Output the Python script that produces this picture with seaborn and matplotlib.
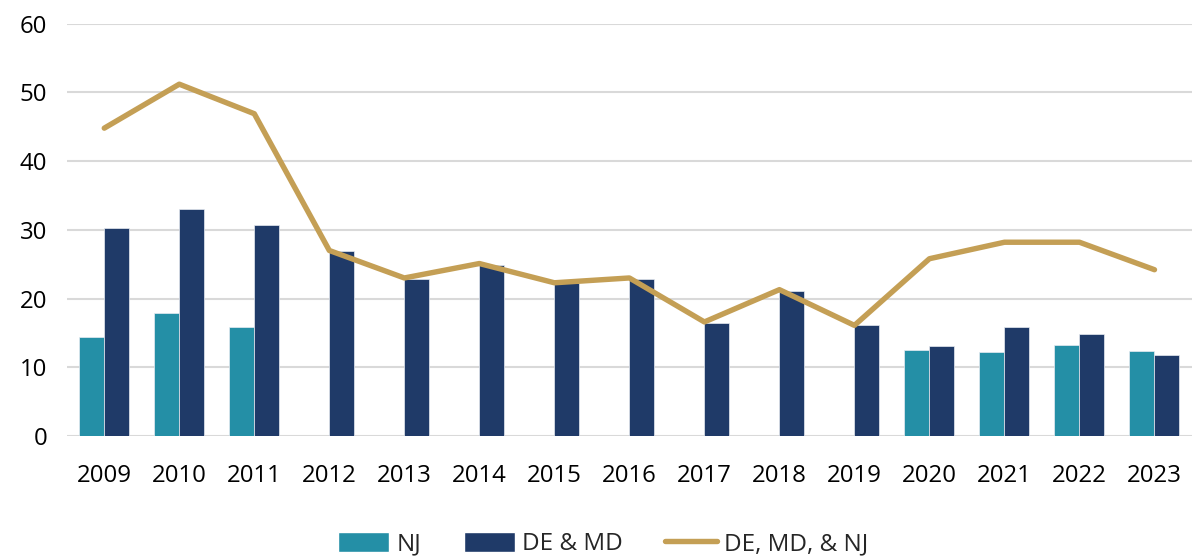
import numpy as np
import pandas as pd
import matplotlib.pyplot as plt
import seaborn as sns
from matplotlib.lines import Line2D
from matplotlib.patches import Patch

# --- DATA ---
years = [str(y) for y in range(2009, 2024)]
nj = [14.4, 17.9, 15.9, np.nan, np.nan, np.nan, np.nan, np.nan,
      np.nan, np.nan, np.nan, 12.5, 12.2, 13.2, 12.3]
de_md = [30.2, 33.1, 30.7, 26.9, 22.9, 24.9, 22.2, 22.9,
         16.5, 21.1, 16.1, 13.1, 15.9, 14.8, 11.8]
total = [44.8, 51.2, 46.9, 27.0, 23.0, 25.1, 22.3, 23.0,
         16.6, 21.3, 16.1, 25.8, 28.2, 28.2, 24.2]

# --- STYLE ---
C_NJ = "#248FA6"
C_DEMD = "#1F3A68"
C_LINE = "#C49F55"
GRID = "#D9D9D9"

sns.set_theme(style="white")
plt.rcParams['font.family'] = ['Open Sans', 'DejaVu Sans']

bars = pd.DataFrame({
    "year": years * 2,
    "value": nj + de_md,
    "series": ["NJ"] * len(years) + ["DE & MD"] * len(years),
})

fig = plt.figure(figsize=(11.92, 5.59), dpi=100)
ax = fig.add_axes([0.056, 0.22, 0.944, 0.7376])

sns.barplot(data=bars, x="year", y="value", hue="series",
            palette={"NJ": C_NJ, "DE & MD": C_DEMD},
            hue_order=["NJ", "DE & MD"], width=2 / 3, gap=0,
            saturation=1, edgecolor="#E8ECF2", linewidth=0.5,
            errorbar=None, legend=False, ax=ax, zorder=2)

sns.lineplot(x=np.arange(len(years)), y=total, color=C_LINE, linewidth=3.9,
             solid_capstyle="round", ax=ax, zorder=3)

ax.set_xlim(-0.5, len(years) - 0.5)
ax.set_ylim(0, 60)
ax.set_yticks(range(0, 61, 10))
ax.yaxis.grid(True, color=GRID, linewidth=1.5)
ax.set_axisbelow(True)
for s in ax.spines.values():
    s.set_visible(False)
ax.tick_params(axis="both", length=0, labelsize=17.3, colors="black")
ax.tick_params(axis="x", pad=20)
ax.tick_params(axis="y", pad=14)
ax.set_xlabel("")
ax.set_ylabel("")

handles = [Patch(facecolor=C_NJ, label="NJ"),
           Patch(facecolor=C_DEMD, label="DE & MD"),
           Line2D([0], [0], color=C_LINE, linewidth=3.9,
                  solid_capstyle="round", label="DE, MD, & NJ")]
fig.legend(handles=handles, loc="center", bbox_to_anchor=(0.506, 0.027),
           ncol=3, frameon=False, fontsize=17.5, handlelength=2.1,
           handleheight=0.9, handletextpad=0.3, columnspacing=1.75)

fig.savefig("out.png", dpi=100)
